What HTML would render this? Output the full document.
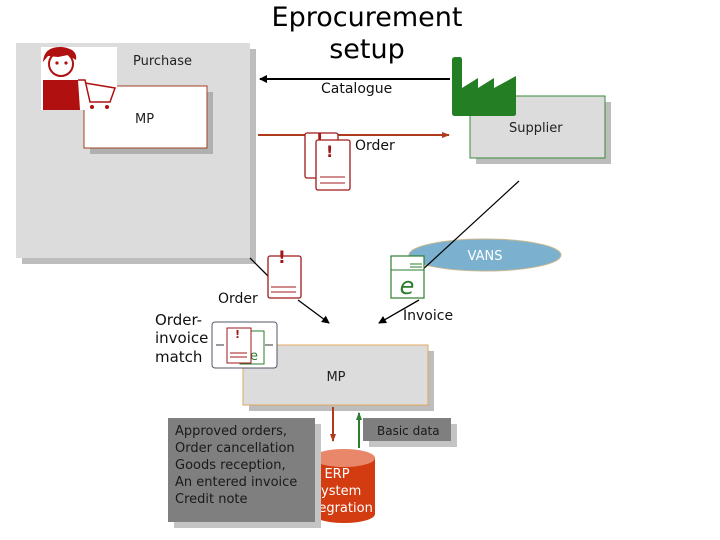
<!DOCTYPE html>
<html><head><meta charset="utf-8"><style>
html,body{margin:0;padding:0;background:#fff;}
svg{display:block;font-family:"DejaVu Sans","Liberation Sans",sans-serif;}
</style></head><body>
<svg width="720" height="540" viewBox="0 0 720 540" xmlns="http://www.w3.org/2000/svg">
<defs>
<marker id="ab" markerWidth="8" markerHeight="8" refX="7" refY="4" orient="auto" markerUnits="userSpaceOnUse"><path d="M0,0 L8,4 L0,8 z" fill="#000"/></marker>
<marker id="ar" markerWidth="8" markerHeight="8" refX="7" refY="4" orient="auto" markerUnits="userSpaceOnUse"><path d="M0,1 L8,4 L0,7 z" fill="#b03a1c"/></marker>
<marker id="ag" markerWidth="8" markerHeight="8" refX="7" refY="4" orient="auto" markerUnits="userSpaceOnUse"><path d="M0,1 L8,4 L0,7 z" fill="#2e7d2e"/></marker>
</defs>
<!-- Purchase box -->
<rect x="22" y="49" width="234" height="215" fill="#bdbdbd"/>
<rect x="16" y="43" width="234" height="215" fill="#dcdcdc"/>
<text x="133" y="65" font-size="13" fill="#222">Purchase</text>
<rect x="90" y="92" width="123" height="62" fill="#b0b0b0"/>
<rect x="84" y="86" width="123" height="62" fill="#fff" stroke="#a04020" stroke-width="1"/>
<text x="135" y="123" font-size="13" fill="#222">MP</text>
<!-- person -->
<rect x="41" y="47" width="76" height="63" fill="#fff"/>
<circle cx="61" cy="64" r="12" fill="#fff" stroke="#b01010" stroke-width="2"/>
<path d="M43,62 Q44,46 62,47 Q78,49 76,60 L68,55 L58,57 L48,56 Z" fill="#b01010"/>
<circle cx="57" cy="63" r="1.6" fill="#b01010"/><circle cx="66" cy="63" r="1.6" fill="#b01010"/>
<path d="M43,80 L78,80 L80,110 L43,110 Z" fill="#b01010"/>
<path d="M78,80 L85,80 L90,102 L110,102 L115,88 L85,83" fill="none" stroke="#b01010" stroke-width="1.5"/>
<circle cx="92" cy="107" r="2" fill="#b01010"/><circle cx="107" cy="107" r="2" fill="#b01010"/>
<!-- title -->
<text x="367" y="26" font-size="27" text-anchor="middle" fill="#000">Eprocurement</text>
<text x="367" y="58" font-size="27" text-anchor="middle" fill="#000">setup</text>
<!-- Catalogue -->
<line x1="450" y1="79" x2="260" y2="79" stroke="#000" stroke-width="2" marker-end="url(#ab)"/>
<text x="321" y="93" font-size="14" fill="#111">Catalogue</text>
<!-- Supplier -->
<rect x="476" y="102" width="135" height="62" fill="#bdbdbd"/>
<rect x="470" y="96" width="135" height="62" fill="#dcdcdc" stroke="#3a8a3a"/>
<text x="509" y="132" font-size="13" fill="#222">Supplier</text>
<!-- factory -->
<path d="M452,60 Q452,57 455,57 L460,57 Q462,57 462,60 L462,88 L478,78 L478,88 L494,78 L494,88 L516,76 L516,114 Q516,116 513,116 L455,116 Q452,116 452,113 Z" fill="#247e24"/>
<!-- Order arrow -->
<line x1="258" y1="135" x2="449" y2="135" stroke="#b03a1c" stroke-width="2" marker-end="url(#ar)"/>
<rect x="305" y="133" width="33" height="45" rx="2" fill="#fff" stroke="#a01818" stroke-width="1.3"/>
<text x="316" y="145" font-size="16" font-weight="bold" fill="#a01818">!</text>
<rect x="316" y="140" width="34" height="50" rx="2" fill="#fff" stroke="#a01818" stroke-width="1.3"/>
<text x="326" y="157" font-size="16" font-weight="bold" fill="#a01818">!</text>
<line x1="320" y1="177" x2="345" y2="177" stroke="#a01818"/><line x1="320" y1="183" x2="345" y2="183" stroke="#a01818"/>
<text x="355" y="150" font-size="14" fill="#111">Order</text>
<!-- VANS -->
<ellipse cx="485" cy="255" rx="76" ry="16" fill="#7cb0cf" stroke="#c8b890"/>
<text x="485" y="260" font-size="13" fill="#fff" text-anchor="middle">VANS</text>
<line x1="519" y1="181" x2="420" y2="272" stroke="#000" stroke-width="1.2"/>
<!-- e doc -->
<rect x="391" y="256" width="33" height="42" fill="#fff" stroke="#2e7d2e" stroke-width="1.2"/>
<line x1="391" y1="270" x2="424" y2="270" stroke="#2e7d2e"/>
<line x1="410" y1="264" x2="422" y2="264" stroke="#2e7d2e"/><line x1="410" y1="267" x2="422" y2="267" stroke="#2e7d2e"/>
<text x="407" y="294" font-size="24" font-style="italic" fill="#2e7d2e" text-anchor="middle">e</text>
<line x1="419" y1="300" x2="379" y2="323" stroke="#000" stroke-width="1.3" marker-end="url(#ab)"/>
<text x="403" y="320" font-size="14" fill="#111">Invoice</text>
<!-- Order doc -->
<line x1="250" y1="258" x2="270" y2="278" stroke="#000" stroke-width="1.3"/>
<rect x="268" y="256" width="33" height="42" rx="2" fill="#fff" stroke="#a01818" stroke-width="1.3"/>
<text x="278" y="263" font-size="17" font-weight="bold" fill="#a01818">!</text>
<line x1="271" y1="287" x2="296" y2="287" stroke="#a01818"/><line x1="271" y1="292" x2="296" y2="292" stroke="#a01818"/>
<line x1="298" y1="300" x2="329" y2="323" stroke="#000" stroke-width="1.3" marker-end="url(#ab)"/>
<text x="218" y="303" font-size="14" fill="#111">Order</text>
<!-- Match -->
<text x="155" y="325" font-size="15" fill="#111">Order-</text>
<text x="155" y="343" font-size="15" fill="#111">invoice</text>
<text x="155" y="362" font-size="15" fill="#111">match</text>
<!-- MP lower -->
<rect x="249" y="351" width="185" height="60" fill="#bdbdbd"/>
<rect x="243" y="345" width="185" height="60" fill="#dcdcdc" stroke="#e0a860"/>
<text x="336" y="381" font-size="13" fill="#222" text-anchor="middle">MP</text>
<rect x="212" y="322" width="65" height="46" rx="3" fill="#fff" stroke="#556"/>
<rect x="240" y="331" width="24" height="33" fill="#fff" stroke="#2e7d2e"/>
<text x="250" y="360" font-size="13" fill="#2e7d2e">e</text>
<rect x="227" y="328" width="24" height="35" fill="#fff" stroke="#a01818"/>
<text x="235" y="338" font-size="11" font-weight="bold" fill="#a01818">!</text>
<line x1="230" y1="353" x2="247" y2="353" stroke="#a01818"/><line x1="230" y1="357" x2="247" y2="357" stroke="#a01818"/>
<line x1="216" y1="345" x2="224" y2="345" stroke="#333"/><line x1="265" y1="345" x2="273" y2="345" stroke="#333"/>
<!-- arrows to ERP -->
<line x1="333" y1="407" x2="333" y2="441" stroke="#b03a1c" stroke-width="2" marker-end="url(#ar)"/>
<line x1="359" y1="448" x2="359" y2="413" stroke="#2e7d2e" stroke-width="2" marker-end="url(#ag)"/>
<!-- ERP cylinder -->
<path d="M313,458 L313,514 A31,9 0 0 0 375,514 L375,458 Z" fill="#d23c10"/>
<ellipse cx="344" cy="458" rx="31" ry="9" fill="#e8876a"/>
<text x="337" y="478" font-size="13" fill="#fff" text-anchor="middle">ERP</text>
<text x="337" y="495" font-size="13" fill="#fff" text-anchor="middle">System</text>
<text x="337" y="512" font-size="13" fill="#fff" text-anchor="middle">Integration</text>
<!-- gray text box -->
<rect x="174" y="424" width="147" height="104" fill="#c4c4c4"/>
<rect x="168" y="418" width="147" height="104" fill="#7f7f7f"/>
<g font-size="13" fill="#1a1a1a">
<text x="175" y="435">Approved orders,</text>
<text x="175" y="452">Order cancellation</text>
<text x="175" y="469">Goods reception,</text>
<text x="175" y="486">An entered invoice</text>
<text x="175" y="503">Credit note</text>
</g>
<rect x="369" y="424" width="88" height="23" fill="#c4c4c4"/>
<rect x="363" y="418" width="88" height="23" fill="#7f7f7f"/>
<text x="377" y="435" font-size="12" fill="#1a1a1a">Basic data</text>
</svg>
</body></html>
